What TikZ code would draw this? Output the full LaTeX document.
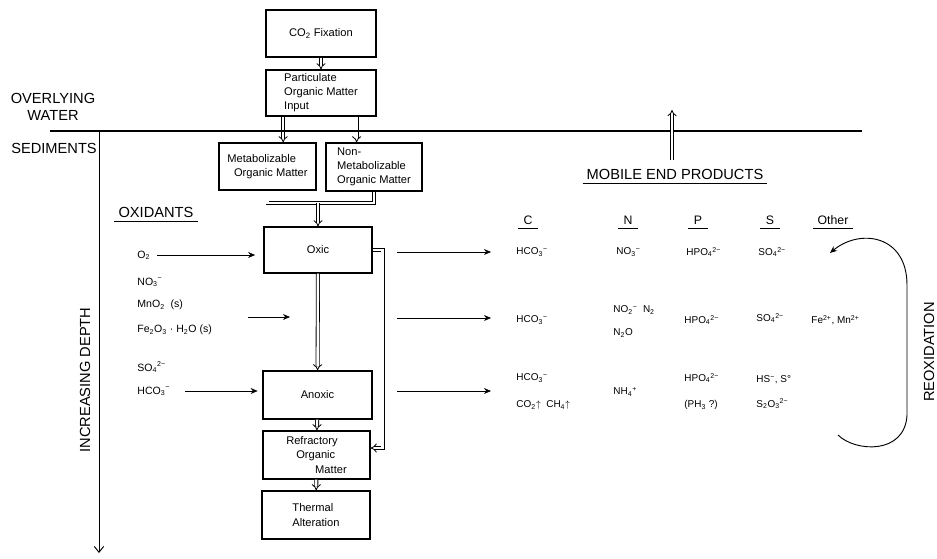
\documentclass[tikz,border=0pt]{standalone}
\usepackage{fontspec}
\setmainfont{Liberation Sans}
\usetikzlibrary{arrows.meta}
\usetikzlibrary{calc}
\usetikzlibrary{positioning}

% sub- and superscript for ions
\newcommand{\chion}[2]{\textsubscript{#1}\textsuperscript{#2}}

\begin{document}
\begin{tikzpicture}[x=0.03cm, y=-0.03cm, >={Stealth[length=6pt,width=5pt]}]
    \tikzstyle{box}=[draw, line width=1.1pt, align=left, inner sep=2pt,
                     font=\fontsize{9.5}{12}\selectfont]
    \tikzstyle{flow}=[double, double distance=2pt, line width=0.7pt, -{Implies}]
    \tikzstyle{pipe}=[double, double distance=2pt, line width=0.7pt]
    \tikzstyle{title}=[font=\fontsize{12.5}{15}\selectfont]
    \tikzstyle{head}=[font=\fontsize{10.5}{12}\selectfont, minimum width=16pt]
    \tikzstyle{oxid}=[anchor=west, inner sep=1pt, font=\fontsize{9}{10}\selectfont]
    \tikzstyle{chem}=[anchor=west, inner sep=1pt, font=\fontsize{8.5}{10}\selectfont]
    \useasboundingbox (0,0) rectangle (937,558);
    % Boxes of the organic matter path
    \foreach \name/\x/\y/\w/\h/\txt in {
        fix/321/33.5/3.3/1.41/{CO\textsubscript{2} Fixation},
        poc/321/93/3.3/1.38/{Particulate\\Organic Matter\\Input},
        met/267.5/166.5/2.91/1.41/{Metabolizable\\\hspace{0.6em}Organic Matter},
        nonmet/374/167/2.88/1.44/{Non-\\Metabolizable\\Organic Matter},
        oxic/318/250/3.24/1.38/{Oxic},
        anoxic/317.5/395/3.27/1.44/{Anoxic},
        refr/316.5/455/3.21/1.44/{Refractory\\\hspace{0.9em}Organic\\\hspace{2.6em}Matter},
        therm/316/515/3.24/1.44/{Thermal\\Alteration}}
        \node[box, minimum width=\w cm, minimum height=\h cm] (\name) at (\x,\y) {\txt};
    % Double arrows between the boxes
    \coordinate (pl) at ($(poc.south west)!0.16!(poc.south east)$);
    \coordinate (pr) at ($(poc.south west)!0.82!(poc.south east)$);
    \coordinate (join) at (oxic.north |- 0,203);
    \draw[flow] (fix) -- (poc);
    \draw[flow] (pl) -- (pl |- met.north);
    \draw[flow] (pr) -- (pr |- nonmet.north);
    \draw[pipe] (met.south) |- (join) -| (nonmet.south);
    \draw[flow] (join) -- (oxic.north);
    \draw[flow] (oxic) -- (anoxic);
    \draw[flow] (anoxic) -- (refr);
    \draw[flow] (refr) -- (therm);
    \draw[flow] (oxic.east) -- ++(10,0) |- ($(refr.east)+(0,-7)$);
    % Sediment surface and depth axis
    \coordinate (wl) at (50,131);
    \coordinate (wr) at (862,131);
    \coordinate (ax0) at (99,131);
    \coordinate (ax1) at (99,553);
    \draw[line width=1pt] (wl) -- (wr);
    \draw[line width=0.8pt, -{Straight Barb[length=5pt,width=8pt]}] (ax0) -- (ax1);
    \node[title, align=center] (water) at (53,107) {OVERLYING\\WATER};
    \node[title] (sed) at (54,148) {SEDIMENTS};
    \node[title, rotate=90] (depth) at (85,380) {INCREASING DEPTH};
    % Oxidants
    \node[title] (oxhead) at (156,212) {OXIDANTS};
    \draw (oxhead.south west) -- (oxhead.south east);
    \foreach \y/\name/\txt in {255/otwo/{O\textsubscript{2}}, 282/nothree/{NO\chion{3}{−}},
        305/mno/{MnO\textsubscript{2} \ (s)},
        330/feo/{Fe\textsubscript{2}O\textsubscript{3} \textperiodcentered\ H\textsubscript{2}O (s)},
        367/sofour/{SO\chion{4}{2−}}, 391/hco/{HCO\chion{3}{−}}}
        \node[oxid] (\name) at (136,\y) {\txt};
    \coordinate (mida) at (248,317);
    \coordinate (midb) at (290,317);
    \draw[->, shorten <=5pt, shorten >=7pt] (otwo.east) -- (otwo.east -| oxic.west);
    \draw[->] (mida) -- (midb);
    \draw[->, shorten <=12pt, shorten >=4pt] (hco.east) -- (hco.east -| anoxic.west);
    % Mobile end products
    \coordinate (upa) at (672,160);
    \coordinate (upb) at (672,110);
    \draw[flow] (upa) -- (upb);
    \node[title] (mobile) at (675,174) {MOBILE END PRODUCTS};
    \draw (mobile.south west) -- (mobile.south east);
    \foreach \x/\name/\txt in {528/hc/C, 628/hn/N, 698/hp/P, 770/hs/S, 833/ho/Other} {
        \node[head] (\name) at (\x,220) {\txt};
        \draw (\name.south west) -- (\name.south east);
    }
    \foreach \y/\n in {252/ra, 318/rb, 391/rc} {
        \coordinate (\n0) at (397,\y);
        \coordinate (\n1) at (491,\y);
        \draw[->] (\n0) -- (\n1);
    }
    \foreach \x/\y/\name/\txt in {
        515/252/ca/{HCO\chion{3}{−}}, 615/252/na/{NO\chion{3}{−}},
        685/252/pa/{HPO\chion{4}{2−}}, 757/252/sa/{SO\chion{4}{2−}},
        515/320/cb/{HCO\chion{3}{−}}, 612/310/nb/{NO\chion{2}{−} \ N\textsubscript{2}},
        612/333/nbb/{N\textsubscript{2}O}, 683/320/pb/{HPO\chion{4}{2−}},
        755/318/sb/{SO\chion{4}{2−}}, 810/320/ob/{Fe\textsuperscript{2+}, Mn\textsuperscript{2+}},
        515/378/cc/{HCO\chion{3}{−}}, 515/405/ccc/{CO\textsubscript{2}$\uparrow$ \ CH\textsubscript{4}$\uparrow$},
        612/392/nc/{NH\chion{4}{+}}, 683/378/pc/{HPO\chion{4}{2−}},
        683/405/pcc/{(PH\textsubscript{3} ?)}, 755/380/sc/{HS\textsuperscript{−}, S°},
        755/404/scc/{S\textsubscript{2}O\chion{3}{2−}}}
        \node[chem] (\name) at (\x,\y) {\txt};
    % Reoxidation loop
    \coordinate (rxa) at (838,435);
    \coordinate (rxb) at (830,253);
    \draw[line width=0.8pt, ->] (rxa) .. controls (855,452) and (905,455) .. (907,415)
        -- (907,285) .. controls (907,235) and (860,228) .. (rxb);
    \node[title, rotate=90] (reox) at (929,352) {REOXIDATION};
\end{tikzpicture}
\end{document}
